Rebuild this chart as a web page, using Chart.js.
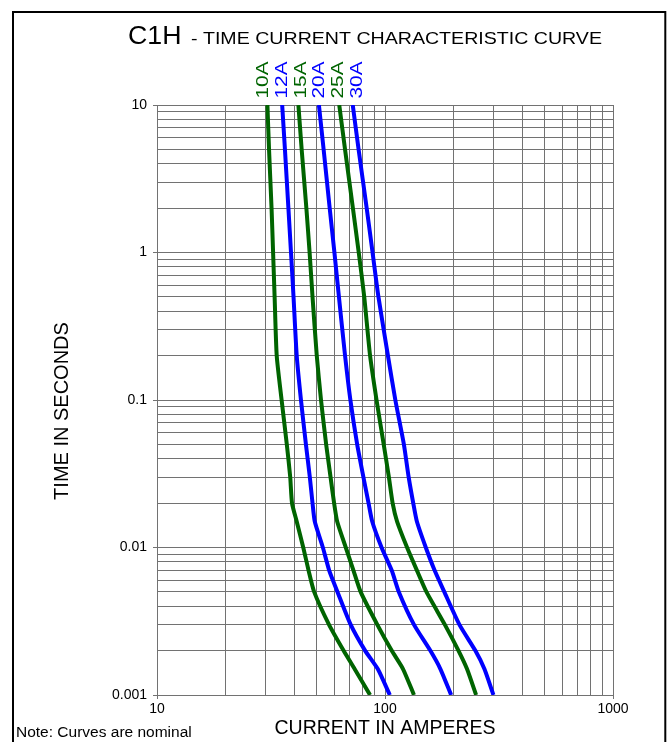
<!DOCTYPE html>
<html>
<head>
<meta charset="utf-8">
<script src="https://cdn.jsdelivr.net/npm/chart.js@4.4.0/dist/chart.umd.min.js"></script>
<style>
html,body{margin:0;padding:0;background:#fff;}
canvas{display:block;}
</style>
</head>
<body>
<canvas id="c" width="667" height="742"></canvas>
<script>
// ---------- data ----------
const seriesLabels = ['10A', '12A', '15A', '20A', '25A', '30A'];
const seriesColors = ['#006400', '#0000ff', '#006400', '#0000ff', '#006400', '#0000ff'];

// time in seconds (shared by all curves)
const times = [10, 5, 2, 1, 0.5, 0.2, 0.1, 0.05, 0.03, 0.02, 0.015, 0.01, 0.007, 0.005, 0.003, 0.002, 0.0015, 0.001];

// current in amperes for each curve at the times above
const current10A = [30.5, 31.0, 31.8, 32.3, 32.8, 33.5, 35.2, 37.1, 38.4, 39.1, 41.0, 43.8, 46.2, 48.9, 56.8, 65.8, 73.6, 86.0];
const current12A = [35.4, 36.4, 37.7, 38.7, 39.7, 41.0, 42.8, 45.0, 46.8, 48.1, 49.2, 53.4, 56.9, 61.9, 70.7, 81.8, 93.0, 105];
const current15A = [41.7, 43.1, 45.2, 46.7, 48.1, 50.2, 52.4, 55.2, 57.7, 59.8, 61.7, 67.3, 72.7, 78.2, 92.5, 107, 120, 134];
const current20A = [51.3, 53.8, 57.2, 60.0, 62.8, 66.8, 70.5, 75.5, 80.4, 84.7, 87.9, 96.6, 107, 115, 134, 158, 175, 195];
const current25A = [63.0, 66.8, 72.3, 76.7, 81.1, 86.0, 91.8, 98.7, 104, 108, 113, 125, 138, 152, 183, 210, 229, 251];
const current30A = [72.2, 76.6, 83.1, 88.2, 93.6, 103, 111, 121, 127, 133, 138, 151, 165, 182, 212, 249, 273, 299];
const seriesCurrents = [current10A, current12A, current15A, current20A, current25A, current30A];

// grid / tick values
const xGridValues = [10, 20, 30, 40, 50, 60, 70, 80, 90, 100, 200, 300, 400, 500, 600, 700, 800, 900, 1000];
const yGridValues = [0.001, 0.002, 0.003, 0.004, 0.005, 0.006, 0.007, 0.008, 0.009,
                     0.01, 0.02, 0.03, 0.04, 0.05, 0.06, 0.07, 0.08, 0.09,
                     0.1, 0.2, 0.3, 0.4, 0.5, 0.6, 0.7, 0.8, 0.9,
                     1, 2, 3, 4, 5, 6, 7, 8, 9, 10];
const xTickValues = [10, 100, 1000];
const xTickLabels = ['10', '100', '1000'];
const yTickValues = [10, 1, 0.1, 0.01, 0.001];
const yTickLabels = ['10', '1', '0.1', '0.01', '0.001'];

const titleMain = 'C1H';
const titleRest = '- TIME CURRENT CHARACTERISTIC CURVE';
const xAxisTitle = 'CURRENT IN AMPERES';
const yAxisTitle = 'TIME IN SECONDS';
const noteText = 'Note: Curves are nominal';

// ---------- drawing ----------
const FONT = "'Liberation Sans', Arial, Helvetica, sans-serif";
const GRID = '#727272';

function drawFit(ctx, text, x, y, font, targetWidth) {
  ctx.save();
  ctx.font = font;
  const w = ctx.measureText(text).width;
  ctx.translate(x, y);
  ctx.scale(targetWidth / w, 1);
  ctx.textAlign = 'left';
  ctx.textBaseline = 'alphabetic';
  ctx.fillText(text, 0, 0);
  ctx.restore();
}

const framePlugin = {
  id: 'frame',
  beforeDraw(chart) {
    const ctx = chart.ctx;
    ctx.save();
    ctx.fillStyle = '#fff';
    ctx.fillRect(0, 0, chart.width, chart.height);
    ctx.strokeStyle = '#000';
    ctx.lineWidth = 2;
    ctx.strokeRect(13, 12, 652.3, 800);
    ctx.restore();
  }
};

const textPlugin = {
  id: 'texts',
  afterDraw(chart) {
    const ctx = chart.ctx;
    ctx.save();
    ctx.fillStyle = '#000';
    // title
    drawFit(ctx, titleMain, 128, 44, '25px ' + FONT, 53.5);
    drawFit(ctx, titleRest, 191, 43.5, '17px ' + FONT, 411);
    // y axis title
    ctx.save();
    ctx.translate(62, 411);
    ctx.rotate(-Math.PI / 2);
    ctx.font = '20px ' + FONT;
    ctx.textAlign = 'center';
    ctx.textBaseline = 'middle';
    ctx.fillText(yAxisTitle, 0, 0);
    ctx.restore();
    // note
    ctx.font = '15.5px ' + FONT;
    ctx.textAlign = 'left';
    ctx.textBaseline = 'alphabetic';
    ctx.fillText(noteText, 16, 737);
    // series labels at top of curves
    const fs = 16;
    ctx.font = fs + 'px ' + FONT;
    seriesLabels.forEach((lab, i) => {
      const cx = 262 + i * 18.9;
      ctx.save();
      ctx.fillStyle = seriesColors[i];
      ctx.translate(cx, 98.5);
      ctx.rotate(-Math.PI / 2);
      ctx.scale(1.3, 1);
      ctx.textAlign = 'left';
      ctx.textBaseline = 'alphabetic';
      ctx.fillText(lab, 0, fs * 0.716 / 2);
      ctx.restore();
    });
    ctx.restore();
  }
};

const datasets = seriesLabels.map((lab, i) => ({
  label: lab,
  data: times.map((t, j) => ({ x: seriesCurrents[i][j], y: t })),
  showLine: true,
  borderColor: seriesColors[i],
  backgroundColor: seriesColors[i],
  borderWidth: 4,
  pointRadius: 0,
  tension: 0.2,
  fill: false
}));

new Chart(document.getElementById('c'), {
  type: 'scatter',
  data: { datasets },
  options: {
    responsive: false,
    animation: false,
    layout: { padding: { left: 0, top: 105, right: 54, bottom: 0 } },
    plugins: { legend: { display: false }, tooltip: { enabled: false }, title: { display: false } },
    scales: {
      x: {
        type: 'logarithmic',
        position: 'bottom',
        min: 10,
        max: 1000,
        afterBuildTicks: s => { s.ticks = xGridValues.map(v => ({ value: v })); },
        afterFit: s => { s.height = 47; },
        grid: {
          color: GRID,
          lineWidth: 1,
          tickLength: 4,
          tickColor: c => (c.tick && xTickValues.includes(c.tick.value)) ? GRID : 'rgba(0,0,0,0)'
        },
        border: { color: GRID, width: 1 },
        ticks: {
          autoSkip: false,
          maxRotation: 0,
          padding: 2,
          color: '#000',
          font: { family: FONT, size: 14 },
          callback: v => { const k = xTickValues.indexOf(v); return k >= 0 ? xTickLabels[k] : ''; }
        },
        title: {
          display: true,
          text: xAxisTitle,
          color: '#000',
          font: { family: FONT, size: 19.5 },
          padding: { top: 0, bottom: 2 }
        }
      },
      y: {
        type: 'logarithmic',
        position: 'left',
        min: 0.001,
        max: 10,
        afterBuildTicks: s => { s.ticks = yGridValues.map(v => ({ value: v })); },
        afterFit: s => { s.width = 157; },
        grid: {
          color: GRID,
          lineWidth: 1,
          tickLength: 4,
          tickColor: c => (c.tick && yTickValues.includes(c.tick.value)) ? GRID : 'rgba(0,0,0,0)'
        },
        border: { color: GRID, width: 1 },
        ticks: {
          autoSkip: false,
          padding: 6,
          color: '#000',
          font: { family: FONT, size: 14 },
          callback: v => { const k = yTickValues.indexOf(v); return k >= 0 ? yTickLabels[k] : ''; }
        }
      }
    }
  },
  plugins: [framePlugin, textPlugin]
});
</script>
</body>
</html>
